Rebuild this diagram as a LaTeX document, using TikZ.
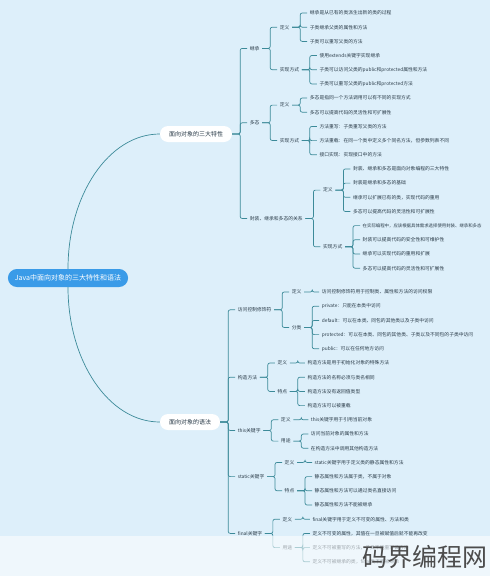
\documentclass[tikz,border=0pt]{standalone}
\usepackage{fontspec}
\setmainfont{Noto Sans CJK SC}

\definecolor{paper}{HTML}{DDEFFA}
\definecolor{branch}{HTML}{3C8A99}
\definecolor{rootblue}{HTML}{3A9BE8}
\definecolor{ink}{HTML}{2A3B48}

% one child: parent, name, y, text
\newcommand\twig[4]{%
  \node[item, xshift=15pt] (#2) at (#1.east |- 0,#3) {#4};
  \draw[link] (#1.east) -- ++(8,0) |- (#2.west);}
% a run of leaves, 14.2 apart
\newcommand\leaves[3]{%
  \foreach \txt [count=\i] in {#3} {%
    \pgfmathsetmacro\yy{#2+(\i-1)*14.2}%
    \twig{#1}{#1-\i}{\yy}{\txt}%
  }}

\begin{document}
\begin{tikzpicture}[x=1pt, y=-1pt,
    root/.style = {fill=rootblue, text=white, rounded corners=9pt, minimum height=18pt, inner xsep=7pt, font=\fontsize{7}{8}\selectfont},
    topic/.style = {fill=white, text=ink, rounded corners=8pt, minimum height=16pt, inner xsep=9pt, font=\fontsize{6}{7}\selectfont},
    item/.style = {anchor=west, text=ink, inner xsep=2.5pt, inner ysep=1pt, font=\fontsize{4.8}{5.5}\selectfont},
    link/.style = {draw=branch, line width=0.7pt, rounded corners=2pt}]
  \fill[paper] (0,0) rectangle (490,576);
  \useasboundingbox (0,0) rectangle (490,576);

  \node[root] (J) at (68,278) {Java中面向对象的三大特性和语法};
  \node[topic] (T) at (196,134) {面向对象的三大特性};
  \node[topic] (S) at (190,422) {面向对象的语法};
  \draw[link] (J.north) .. controls +(0,-74) and +(-51,0) .. (T.west);
  \draw[link] (J.south) .. controls +(0,74) and +(-51,0) .. (S.west);

  % 三大特性
  \twig{T}{Ji}{48.4}{继承}
  \twig{T}{Du}{122.8}{多态}
  \twig{T}{Gx}{218.5}{封装、继承和多态的关系}

  \twig{Ji}{Ji1}{27.2}{定义}
  \twig{Ji}{Ji2}{69.7}{实现方式}
  \leaves{Ji1}{13}{继承是从已有的类派生出新的类的过程,%
    子类继承父类的属性和方法,%
    子类可以重写父类的方法}
  \leaves{Ji2}{55.5}{使用extends关键字实现继承,%
    子类可以访问父类的public和protected属性和方法,%
    子类可以重写父类的public和protected方法}

  \twig{Du}{Du1}{105.1}{定义}
  \twig{Du}{Du2}{140.5}{实现方式}
  \leaves{Du1}{98}{多态是指同一个方法调用可以有不同的实现方式,%
    多态可以提高代码的灵活性和可扩展性}
  \leaves{Du2}{126.4}{方法重写：子类重写父类的方法,%
    方法重载：在同一个类中定义多个同名方法，但参数列表不同,%
    接口实现：实现接口中的方法}

  \twig{Gx}{Gx1}{190.1}{定义}
  \twig{Gx}{Gx2}{246.8}{实现方式}
  \leaves{Gx1}{168.9}{封装、继承和多态是面向对象编程的三大特性,%
    封装是继承和多态的基础,%
    继承可以扩展已有的类，实现代码的重用,%
    多态可以提高代码的灵活性和可扩展性}
  \leaves{Gx2}{225.6}{\fontsize{4.4}{5}\selectfont 在实际编程中，应该根据具体需求选择使用封装、继承和多态,%
    封装可以提高代码的安全性和可维护性,%
    继承可以实现代码的重用和扩展,%
    多态可以提高代码的灵活性和可扩展性}

  % 语法
  \twig{S}{Fw}{309.8}{访问控制修饰符}
  \twig{S}{Gz}{377.2}{构造方法}
  \twig{S}{Th}{430.5}{this关键字}
  \twig{S}{St}{476.6}{static关键字}
  \twig{S}{Fi}{533.4}{final关键字}

  \twig{Fw}{Fw1}{292}{定义}
  \twig{Fw}{Fw2}{327.5}{分类}
  \leaves{Fw1}{292}{访问控制修饰符用于控制类、属性和方法的访问权限}
  \leaves{Fw2}{306.2}{private：只能在本类中访问,%
    default：可以在本类、同包的其他类以及子类中访问,%
    protected：可以在本类、同包的其他类、子类以及不同包的子类中访问,%
    public：可以在任何地方访问}

  \twig{Gz}{Gz1}{363}{定义}
  \twig{Gz}{Gz2}{391.4}{特点}
  \leaves{Gz1}{363}{构造方法是用于初始化对象的特殊方法}
  \leaves{Gz2}{377.2}{构造方法的名称必须与类名相同,%
    构造方法没有返回值类型,%
    构造方法可以被重载}

  \twig{Th}{Th1}{419.8}{定义}
  \twig{Th}{Th2}{441.1}{用途}
  \leaves{Th1}{419.8}{this关键字用于引用当前对象}
  \leaves{Th2}{434}{访问当前对象的属性和方法,%
    在构造方法中调用其他构造方法}

  \twig{St}{St1}{462.4}{定义}
  \twig{St}{St2}{490.8}{特点}
  \leaves{St1}{462.4}{static关键字用于定义类的静态属性和方法}
  \leaves{St2}{476.6}{静态属性和方法属于类，不属于对象,%
    静态属性和方法可以通过类名直接访问,%
    静态属性和方法不能被继承}

  \twig{Fi}{Fi1}{519.2}{定义}
  \twig{Fi}{Fi2}{547.6}{用途}
  \leaves{Fi1}{519.2}{final关键字用于定义不可变的属性、方法和类}
  \leaves{Fi2}{533.4}{定义不可变的属性，其值在一旦被赋值后就不能再改变,%
    定义不可被重写的方法，子类不能重写该方法,%
    定义不可被继承的类，final类不能被继承}

  % faded foot with watermark
  \fill[white, opacity=0.55] (0,536) rectangle (490,576);
  \node[text=black!70, font=\fontsize{25}{25}\selectfont, anchor=east, inner sep=0pt] (wm) at (488,557) {码界编程网};
\end{tikzpicture}
\end{document}
